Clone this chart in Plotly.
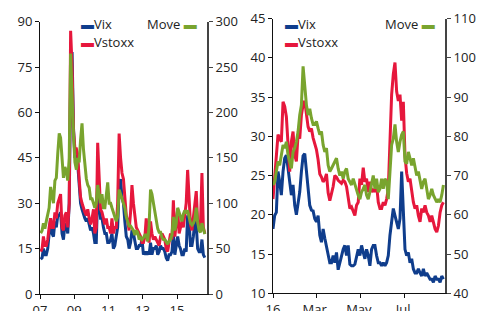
import plotly.graph_objects as go
import pandas as pd

# ---------------- Left chart: 2007 - 2016 (monthly readings) ----------------
long_dates = pd.date_range("2007-01-01", "2016-08-01", freq="MS") + pd.Timedelta(days=14)

vix_long = [
    11.5, 12, 15, 13, 13, 15, 20, 25, 20, 19, 24, 22,
    26, 26, 27, 20, 18, 23, 23, 20, 30, 69, 80, 55,
    45, 46, 43, 36, 30, 28, 26, 25, 24, 25, 23, 21,
    22, 20, 17, 17, 33, 30, 25, 25, 22, 20, 20, 17,
    17, 18, 20, 15, 16, 19, 22, 35, 38, 32, 30, 24,
    19, 18, 15, 17, 21, 20, 17, 15, 15, 16, 16, 18,
    13, 14, 13, 14, 13, 17, 13, 15, 15, 16, 13, 14,
    16, 15, 15, 14, 12, 11, 13, 13, 14, 20, 13, 17,
    19, 16, 15, 13, 13, 15, 14, 26, 24, 16, 16, 19,
    24, 23, 15, 14, 14, 18, 13, 12,
]
vstoxx_long = [
    14, 15, 19, 16, 16, 18, 22, 25, 22, 22, 27, 25,
    30, 32, 33, 22, 21, 26, 27, 22, 30, 87, 75, 54,
    48, 48, 46, 38, 32, 30, 28, 27, 26, 28, 25, 23,
    25, 28, 20, 22, 50, 35, 28, 27, 25, 23, 25, 22,
    22, 20, 25, 20, 22, 22, 30, 53, 45, 40, 38, 30,
    26, 24, 21, 27, 36, 30, 25, 22, 21, 20, 19, 17,
    17, 19, 25, 20, 17, 24, 20, 18, 19, 18, 17, 16,
    19, 20, 19, 18, 15, 14, 17, 20, 18, 31, 19, 24,
    28, 20, 22, 24, 22, 26, 30, 41, 32, 23, 21, 26,
    30, 34, 24, 22, 23, 40, 22, 20,
]
move_long = [
    67, 70, 78, 72, 80, 88, 95, 118, 107, 100, 125, 128,
    155, 177, 172, 145, 128, 140, 135, 125, 150, 265, 210, 175,
    145, 137, 150, 145, 170, 188, 160, 140, 127, 120, 117, 105,
    105, 100, 95, 100, 120, 110, 100, 110, 95, 95, 110, 123,
    100, 100, 95, 90, 85, 80, 85, 115, 110, 105, 100, 95,
    85, 80, 75, 75, 72, 70, 65, 70, 68, 60, 62, 60,
    62, 65, 65, 58, 75, 115, 110, 100, 90, 80, 72, 68,
    68, 62, 60, 60, 57, 55, 58, 60, 65, 85, 70, 78,
    95, 90, 85, 80, 88, 92, 90, 92, 85, 78, 76, 78,
    82, 95, 80, 70, 68, 78, 72, 66,
]

# ---------------- Right chart: 2016 (readings every ~2.3 days) ----------------
short_dates = pd.date_range("2016-01-01", "2016-08-23 10:00", periods=103)

vix_2016 = [
    18.2, 19.9, 20.3, 25.5, 24.2, 22.5, 25.5, 27.2, 27.6, 25.9,
    24.2, 22.5, 23.8, 21.2, 20.0, 21.6, 22.9, 25.5, 27.5, 27.8,
    25.5, 23.0, 21.2, 20.6, 20.5, 19.5, 19.1, 19.9, 17.4, 16.5,
    18.2, 17.0, 16.1, 14.8, 13.9, 13.9, 14.8, 13.9, 15.2, 13.0,
    13.9, 14.8, 15.6, 16.1, 14.8, 16.1, 13.7, 13.5, 13.5,
    13.7, 14.8, 15.6, 14.8, 16.1, 15.2, 14.4, 15.6, 14.8, 13.5,
    15.6, 16.1, 16.1, 14.8, 13.9, 13.9, 13.5, 13.9, 13.5, 13.9,
    14.8, 17.4, 19.5, 20.8, 19.9, 19.1, 18.2, 19.5, 25.5, 20.5,
    15.6, 14.8, 15.2, 13.9, 14.4, 13.1, 12.6, 12.6, 13.1, 12.6,
    12.2, 13.1, 12.2, 12.6, 12.2, 11.8, 11.8, 11.4, 12.2, 11.8,
    11.8, 11.4, 12.2, 11.8,
]
vstoxx_2016 = [
    22.0, 25.0, 28.0, 30.2, 29.7, 29.3, 34.4, 33.8, 32.5, 29.0,
    25.5, 29.3, 30.6, 27.6, 26.8, 30.2, 29.7, 32.7, 34.0, 34.5,
    32.5, 31.2, 30.6, 31.0, 29.8, 29.0, 28.3, 27.0, 25.2, 24.8,
    24.2, 24.5, 25.2, 22.8, 21.8, 22.7, 23.6, 25.0, 24.8, 24.4,
    24.2, 24.0, 24.4, 24.2, 23.6, 22.0, 20.8, 21.0, 20.3,
    19.9, 21.2, 21.6, 24.6, 23.8, 26.0, 24.2, 24.6, 22.9, 24.2,
    22.9, 23.3, 22.9, 23.8, 21.6, 20.8, 20.8, 21.6, 21.2, 22.0,
    23.3, 29.3, 35.3, 37.9, 39.4, 35.7, 34.5, 35.3, 32.0, 34.4,
    27.5, 25.3, 24.2, 24.6, 22.9, 21.6, 20.8, 21.2, 19.9, 19.1,
    20.8, 20.3, 21.2, 20.3, 19.9, 19.1, 19.9, 19.1, 18.2, 17.8,
    18.6, 20.3, 21.2, 21.6,
]
move_2016 = [
    67.6, 68.4, 71.0, 73.6, 72.6, 75.2, 77.8, 77.0, 78.6, 75.2,
    73.6, 71.8, 76.0, 77.0, 78.6, 81.2, 85.4, 88.0, 97.8, 93.0,
    88.0, 85.4, 87.0, 84.6, 83.0, 83.0, 83.8, 82.0, 80.4, 81.2,
    77.8, 76.0, 77.0, 72.6, 71.0, 71.8, 72.6, 73.6, 74.4, 71.8,
    70.0, 71.0, 69.2, 71.0, 71.8, 69.2, 68.4, 67.6, 69.2,
    67.6, 66.6, 65.0, 64.0, 65.8, 66.6, 67.6, 65.0, 64.0, 65.8,
    67.6, 70.0, 66.6, 69.2, 65.8, 66.6, 69.2, 66.6, 69.2, 68.4,
    64.0, 72.6, 77.8, 79.4, 83.0, 78.6, 76.0, 78.6, 80.4, 81.2,
    73.6, 73.0, 76.0, 74.4, 72.6, 74.4, 72.6, 70.0, 71.0, 68.4,
    66.6, 68.4, 69.2, 66.6, 64.0, 65.0, 66.6, 65.0, 64.0, 63.2,
    64.0, 63.2, 65.0, 67.6,
]

long_ticks = ["2007-01-01", "2009-01-01", "2011-01-01", "2013-01-01", "2015-01-01"]
long_ticktext = ["07", "09", "11", "13", "15"]
short_ticks = ["2016-01-01", "2016-03-01", "2016-05-01", "2016-07-01"]
short_ticktext = ["16", "Mar.", "May.", "Jul."]

BLUE = "#0f3d8c"
RED = "#e6173c"
GREEN = "#79a42e"

# The page body has an 8px margin, so the figure is sized to end at the window edge
OFF = 8
W, H = 485 - OFF, 311 - OFF
def px(x):
    return (x - OFF) / W
def py(y):
    return 1 - (y - OFF) / H

fig = go.Figure()
fig.add_trace(go.Scatter(x=long_dates, y=vix_long, name="Vix", mode="lines",
                         line=dict(color=BLUE, width=3), xaxis="x", yaxis="y", showlegend=False))
fig.add_trace(go.Scatter(x=long_dates, y=vstoxx_long, name="Vstoxx", mode="lines",
                         line=dict(color=RED, width=3), xaxis="x", yaxis="y", showlegend=False))
fig.add_trace(go.Scatter(x=long_dates, y=move_long, name="Move", mode="lines",
                         line=dict(color=GREEN, width=3), xaxis="x", yaxis="y2", showlegend=False))
fig.add_trace(go.Scatter(x=short_dates, y=vix_2016, name="Vix", mode="lines",
                         line=dict(color=BLUE, width=3), xaxis="x2", yaxis="y3", showlegend=False))
fig.add_trace(go.Scatter(x=short_dates, y=vstoxx_2016, name="Vstoxx", mode="lines",
                         line=dict(color=RED, width=3), xaxis="x2", yaxis="y3", showlegend=False))
fig.add_trace(go.Scatter(x=short_dates, y=move_2016, name="Move", mode="lines",
                         line=dict(color=GREEN, width=3), xaxis="x2", yaxis="y4", showlegend=False))

FONT = dict(family="Open Sans, Liberation Sans, sans-serif", size=13, color="#222")
common = dict(showgrid=False, zeroline=False, showline=True, ticks="outside", ticklen=4,
              tickfont=FONT, fixedrange=True, automargin=False)

fig.update_layout(
    template="none",
    width=W, height=H, margin=dict(l=0, r=0, t=0, b=0, pad=0), autosize=False,
    paper_bgcolor="white", plot_bgcolor="white", font=FONT,
    xaxis=dict(domain=[px(40), px(207)], type="date", range=["2007-01-01", "2016-10-01"],
               tickmode="array", tickvals=long_ticks, ticktext=long_ticktext,
               linecolor="#111", linewidth=1, tickcolor="#111", anchor="y", **common),
    yaxis=dict(domain=[py(294), py(21.7)], range=[0, 90], tickmode="array",
               tickvals=[0, 15, 30, 45, 60, 75, 90], linecolor="#111", linewidth=1,
               tickcolor="#111", anchor="x", **common),
    yaxis2=dict(overlaying="y", side="right", range=[0, 300], tickmode="array",
                tickvals=[0, 50, 100, 150, 200, 250, 300], linecolor="#444", linewidth=2,
                tickcolor="#444", anchor="x", **common),
    xaxis2=dict(domain=[px(273), px(445)], type="date", range=["2016-01-01", "2016-08-25 14:00"],
                tickmode="array", tickvals=short_ticks, ticktext=short_ticktext,
                linecolor="#111", linewidth=1, tickcolor="#111", anchor="y3", **common),
    yaxis3=dict(domain=[py(293.3), py(18.5)], range=[10, 45], tickmode="array",
                tickvals=[10, 15, 20, 25, 30, 35, 40, 45], linecolor="#111", linewidth=1,
                tickcolor="#111", anchor="x2", **common),
    yaxis4=dict(overlaying="y3", side="right", range=[40, 110], tickmode="array",
                tickvals=[40, 50, 60, 70, 80, 90, 100, 110], linecolor="#444", linewidth=2,
                tickcolor="#444", anchor="x2", **common),
)

def sw(color):
    return f"<span style='color:{color}'>▬</span>"

legend_items = [
    (80, 24, sw(BLUE) + "Vix", "left"),
    (80, 42, sw(RED) + "Vstoxx", "left"),
    (198, 24, "Move " + sw(GREEN), "right"),
    (284, 24, sw(BLUE) + "Vix", "left"),
    (284, 42, sw(RED) + "Vstoxx", "left"),
    (436, 24, "Move " + sw(GREEN), "right"),
]
for x, y, text, anchor in legend_items:
    fig.add_annotation(x=px(x), y=py(y), xref="paper", yref="paper", text=text,
                       showarrow=False, xanchor=anchor, yanchor="middle", font=FONT,
                       bgcolor="rgba(0,0,0,0)", borderpad=0)

fig.write_html("out.html")
